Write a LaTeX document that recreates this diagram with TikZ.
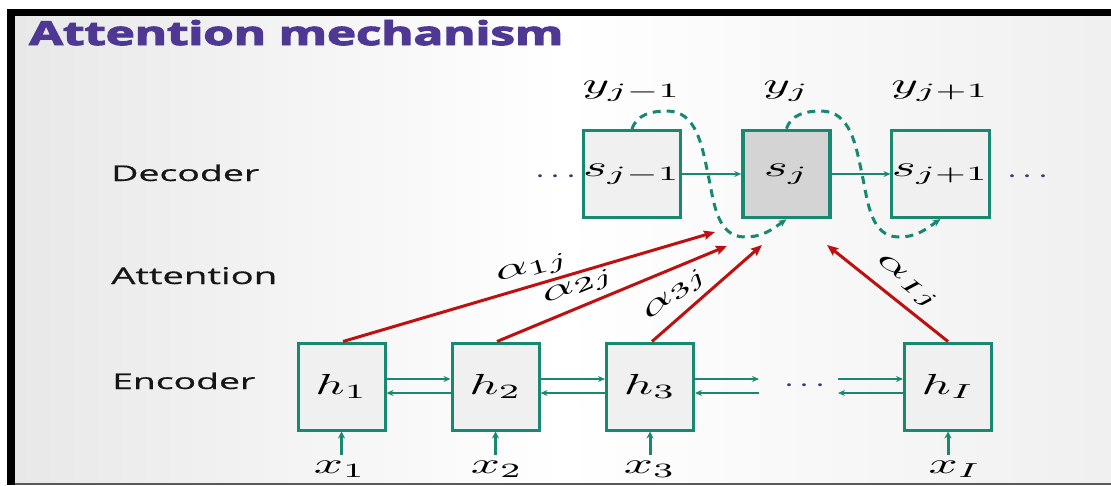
\documentclass[tikz,border=0pt]{standalone}
\usepackage{fontspec}
\newfontfamily\osans{Open Sans}[BoldFeatures={FakeBold=3}]
\newfontfamily\lsans{Open Sans}[FakeBold=0.5]
\usetikzlibrary{arrows.meta}
\definecolor{tealc}{RGB}{24,136,112}
\definecolor{redc}{RGB}{190,16,16}
\definecolor{cellfill}{RGB}{240,240,240}
\definecolor{curfill}{RGB}{212,212,212}
\definecolor{titlec}{RGB}{78,56,148}
\definecolor{dotc}{RGB}{58,58,120}
\definecolor{labc}{RGB}{22,22,22}
\newcommand{\mt}[1]{\scalebox{5.1}[2.9]{$#1$}}
\newcommand{\md}{\scalebox{3.6}[2.9]{$\cdots$}}
\begin{document}
\begin{tikzpicture}[x=1pt,y=1pt,
  cell/.style={draw=tealc, line width=3pt, fill=cellfill, minimum width=87pt, minimum height=87pt, inner sep=0pt},
  curcell/.style={cell, fill=curfill, line width=3.6pt},
  mlab/.style={inner sep=0pt, text=black},
  sidelab/.style={anchor=base west, inner sep=0pt, text=labc},
  dots/.style={inner sep=0pt, text=dotc},
  tarrow/.style={draw=tealc, line width=2pt, -{Stealth[length=7pt,width=6pt]}},
  inarrow/.style={draw=tealc, line width=3pt, -{Stealth[length=7pt,width=7pt]}},
  rarrow/.style={draw=redc, line width=3pt, -{Stealth[length=11pt,width=9pt,inset=1.5pt]}},
  recur/.style={draw=tealc, line width=3pt, dash pattern=on 8pt off 6pt, -{Stealth[length=8pt,width=7pt]}}
]
\useasboundingbox (0,0) rectangle (1111,-485);
% background and frame
\shade[left color=black!9, right color=black!6, middle color=white] (15,-16) rectangle (1111,-483);
\fill[black] (7,-9) rectangle (1111,-16);
\fill[black] (7,-9) rectangle (15,-485);
\fill[black!65] (15,-483) rectangle (1111,-485);

% title and side labels
\node[anchor=base west, inner sep=0pt, text=titlec] (title) at (29,-45) {\resizebox{534pt}{25pt}{\osans\bfseries Attention mechanism}};
\node[sidelab] (dec) at (111,-181) {\resizebox{148pt}{16.5pt}{\lsans Decoder}};
\node[sidelab] (att) at (111,-284) {\resizebox{166pt}{17pt}{\lsans Attention}};
\node[sidelab] (enc) at (112,-389) {\resizebox{143pt}{16.5pt}{\lsans Encoder}};

% decoder
\node[cell] (s1) at (632,-174) {\mt{s_{j-1}}};
\node[curcell] (s2) at (786.5,-174) {\mt{s_j}};
\node[cell] (s3) at (940.5,-174) {\mt{s_{j+1}}};
\node[dots] (dl) at (556,-177) {\md};
\node[dots] (dr) at (1028,-177) {\md};
\node[mlab, anchor=base] (y1) at (632,-93) {\mt{y_{j-1}}};
\node[mlab, anchor=base] (y2) at (786.5,-93) {\mt{y_j}};
\node[mlab, anchor=base] (y3) at (940.5,-93) {\mt{y_{j+1}}};
\draw[tarrow] (s1.east) -- (s2.west);
\draw[tarrow] (s2.east) -- (s3.west);
\draw[recur] (s1.north) to[out=72,in=180] (667,-111) to[out=0,in=102] (708,-174) to[out=-78,in=180] (745,-237) to[out=0,in=-145] (s2.south);
\draw[recur] (s2.north) to[out=72,in=180] (821,-111) to[out=0,in=102] (862,-174) to[out=-78,in=180] (899,-237) to[out=0,in=-145] (s3.south);

% encoder
\node[cell] (h1) at (341.5,-386.5) {\mt{h_1}};
\node[cell] (h2) at (495.5,-386.5) {\mt{h_2}};
\node[cell] (h3) at (650,-386.5) {\mt{h_3}};
\node[cell] (hI) at (948,-386.5) {\mt{h_I}};
\node[dots] (de) at (805,-386) {\md};
\coordinate (c1) at (759,-386.5);
\coordinate (c2) at (838,-386.5);
\draw[tarrow] ([yshift=7.5pt]h1.east) -- ([yshift=7.5pt]h2.west);
\draw[tarrow] ([yshift=-6.5pt]h2.west) -- ([yshift=-6.5pt]h1.east);
\draw[tarrow] ([yshift=7.5pt]h2.east) -- ([yshift=7.5pt]h3.west);
\draw[tarrow] ([yshift=-6.5pt]h3.west) -- ([yshift=-6.5pt]h2.east);
\draw[tarrow] ([yshift=7.5pt]h3.east) -- ([yshift=7.5pt]c1);
\draw[tarrow] ([yshift=-6.5pt]c1) -- ([yshift=-6.5pt]h3.east);
\draw[tarrow] ([yshift=7.5pt]c2) -- ([yshift=7.5pt]hI.west);
\draw[tarrow] ([yshift=-6.5pt]hI.west) -- ([yshift=-6.5pt]c2);

% inputs
\node[mlab, anchor=base] (x1) at (340,-473) {\mt{x_1}};
\node[mlab, anchor=base] (x2) at (497,-473) {\mt{x_2}};
\node[mlab, anchor=base] (x3) at (650,-473) {\mt{x_3}};
\node[mlab, anchor=base] (xI) at (955,-473) {\mt{x_I}};
\draw[inarrow] (h1.south |- 0,-455) -- (h1.south);
\draw[inarrow] (h2.south |- 0,-455) -- (h2.south);
\draw[inarrow] (h3.south |- 0,-455) -- (h3.south);
\draw[inarrow] (hI.south |- 0,-455) -- (hI.south);

% attention
\coordinate (t1) at (715,-232);
\coordinate (t2) at (727,-246);
\coordinate (t3) at (762,-245);
\coordinate (tI) at (827,-245);
\draw[rarrow] ([xshift=1.5pt]h1.north) -- (t1);
\draw[rarrow] ([xshift=1.5pt]h2.north) -- (t2);
\draw[rarrow] ([xshift=2pt]h3.north) -- (t3);
\draw[rarrow] (hI.north) -- (tI);
\node[mlab, rotate=16.2] (a1) at (533,-269) {\mt{\alpha_{1j}}};
\node[mlab, rotate=22.2] (a2) at (579,-287) {\mt{\alpha_{2j}}};
\node[mlab, rotate=40.8] (a3) at (676,-295) {\mt{\alpha_{3j}}};
\node[mlab, rotate=-38.1] (aI) at (907,-283) {\mt{\alpha_{Ij}}};
\end{tikzpicture}
\end{document}
